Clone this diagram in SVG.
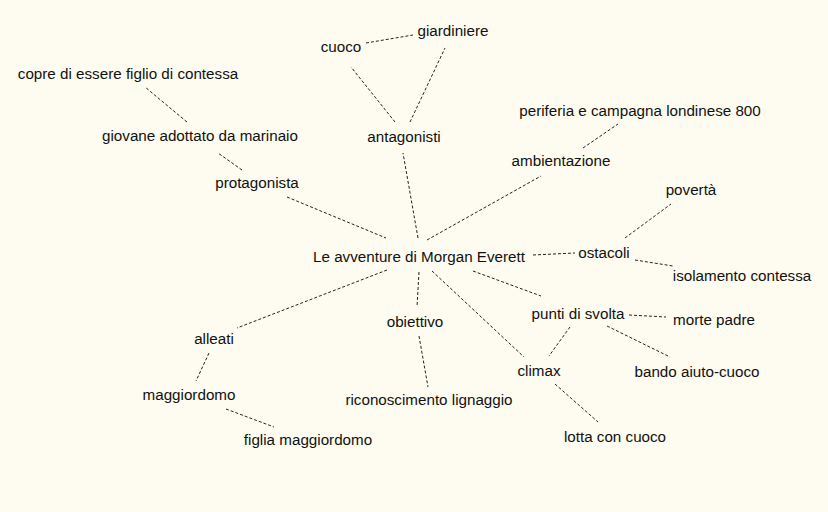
<svg xmlns="http://www.w3.org/2000/svg" width="828" height="512" viewBox="0 0 828 512">
<style>
.e{stroke:#222;stroke-width:1;stroke-dasharray:3,2;fill:none}
.t{font-family:"Liberation Sans",Arial,sans-serif;font-size:15.2px;fill:#111;text-anchor:middle}
</style>
<rect width="828" height="512" fill="#fefcf0"/>
<g id="connectors">
<line class="e" x1="287" y1="197" x2="386" y2="238"/>
<line class="e" x1="242" y1="170" x2="218" y2="153"/>
<line class="e" x1="187" y1="122" x2="145" y2="87"/>
<line class="e" x1="418" y1="238" x2="403" y2="153"/>
<line class="e" x1="395" y1="122" x2="351" y2="67"/>
<line class="e" x1="410" y1="122" x2="445" y2="48"/>
<line class="e" x1="366" y1="43" x2="413" y2="35"/>
<line class="e" x1="427" y1="240" x2="541" y2="176"/>
<line class="e" x1="583" y1="148" x2="618" y2="124"/>
<line class="e" x1="533" y1="255" x2="575" y2="253"/>
<line class="e" x1="625" y1="238" x2="671" y2="204"/>
<line class="e" x1="635" y1="260" x2="673" y2="266"/>
<line class="e" x1="473" y1="271" x2="541" y2="296"/>
<line class="e" x1="629" y1="315" x2="666" y2="317"/>
<line class="e" x1="607" y1="326" x2="670" y2="357"/>
<line class="e" x1="432" y1="271" x2="524" y2="357"/>
<line class="e" x1="570" y1="327" x2="549" y2="356"/>
<line class="e" x1="555" y1="384" x2="598" y2="422"/>
<line class="e" x1="419" y1="272" x2="417" y2="307"/>
<line class="e" x1="419" y1="336" x2="428" y2="387"/>
<line class="e" x1="387" y1="270" x2="237" y2="328"/>
<line class="e" x1="209" y1="353" x2="196" y2="381"/>
<line class="e" x1="226" y1="409" x2="274" y2="427"/>
</g>
<g id="n-center"><text class="t" x="419" y="262">Le avventure di Morgan Everett</text></g>
<g id="n-protagonista"><text class="t" x="257" y="188">protagonista</text></g>
<g id="n-giovane"><text class="t" x="200" y="141">giovane adottato da marinaio</text></g>
<g id="n-copre"><text class="t" x="128" y="79">copre di essere figlio di contessa</text></g>
<g id="n-antagonisti"><text class="t" x="404" y="142">antagonisti</text></g>
<g id="n-cuoco"><text class="t" x="341" y="52">cuoco</text></g>
<g id="n-giardiniere"><text class="t" x="453" y="36">giardiniere</text></g>
<g id="n-ambientazione"><text class="t" x="561" y="166">ambientazione</text></g>
<g id="n-periferia"><text class="t" x="640" y="116">periferia e campagna londinese 800</text></g>
<g id="n-ostacoli"><text class="t" x="604" y="258">ostacoli</text></g>
<g id="n-poverta"><text class="t" x="691" y="195">povertà</text></g>
<g id="n-isolamento"><text class="t" x="742" y="281">isolamento contessa</text></g>
<g id="n-punti"><text class="t" x="578" y="319">punti di svolta</text></g>
<g id="n-morte"><text class="t" x="714" y="325">morte padre</text></g>
<g id="n-bando"><text class="t" x="697" y="377">bando aiuto-cuoco</text></g>
<g id="n-climax"><text class="t" x="539" y="376">climax</text></g>
<g id="n-lotta"><text class="t" x="615" y="442">lotta con cuoco</text></g>
<g id="n-obiettivo"><text class="t" x="415" y="327">obiettivo</text></g>
<g id="n-riconoscimento"><text class="t" x="429" y="405">riconoscimento lignaggio</text></g>
<g id="n-alleati"><text class="t" x="214" y="344">alleati</text></g>
<g id="n-maggiordomo"><text class="t" x="189" y="400">maggiordomo</text></g>
<g id="n-figlia"><text class="t" x="308" y="445">figlia maggiordomo</text></g>
</svg>
